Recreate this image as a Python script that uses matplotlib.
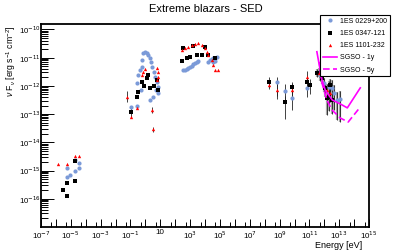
import numpy as np
import matplotlib
matplotlib.use("Agg")
import matplotlib.pyplot as plt
from matplotlib.ticker import FixedLocator, FuncFormatter, NullFormatter
from matplotlib.lines import Line2D

plt.rcParams['font.family'] = ['Liberation Sans', 'DejaVu Sans']
plt.rcParams['mathtext.fontset'] = 'custom'
plt.rcParams['mathtext.rm'] = 'Liberation Sans'
plt.rcParams['mathtext.it'] = 'Liberation Sans:italic'

# values as log10(E / eV) and log10(nuFnu / erg s^-1 cm^-2), errors in dex
blue_E = [-4.74, -4.47, -5.26, -4.47, -4.70, -5.05, -5.26,
          -0.98, -0.58, -0.58, -0.47, -0.36, -0.24, -0.20, -0.13, -0.05, 0.09, 0.20, 0.32,
          0.38, 0.43, 0.55, 0.65, 0.75, 0.87, 0.87, 0.54, 0.32, -0.30, 0.70,
          2.55, 2.66, 2.78, 2.89, 3.00, 3.11, 3.22, 3.34, 3.45, 3.56, 4.23, 4.34, 4.46,
          4.56, 4.68, 4.79, 4.56, 4.68,
          8.82, 9.33, 9.83, 10.83, 11.72, 11.95, 12.28, 12.51, 12.62, 12.85, 13.07]
blue_F = [-14.63, -14.73, -14.91, -14.91, -15.03, -15.16, -15.22,
          -12.74, -12.71, -11.90, -11.61, -11.45, -11.32, -11.10, -10.84, -10.80, -10.84, -10.92, -11.01,
          -11.15, -11.32, -11.50, -11.67, -11.85, -12.03, -12.25, -12.38, -12.50, -12.15, -12.15,
          -11.44, -11.44, -11.40, -11.35, -11.32, -11.28, -11.24, -11.20, -11.16, -11.12, -11.14, -11.08, -11.05,
          -11.02, -11.00, -10.96, -11.14, -11.12,
          -11.85, -12.17, -12.44, -12.09, -11.61, -11.91, -12.03, -12.09, -12.26, -12.50, -12.48]
blue_lo = [0] * 48 + [0.6, 0.4, 0.4, 0.3, 0.2, 0.3, 0.4, 0.5, 0.6, 0.7, 0.8]
blue_hi = [0] * 48 + [0.15, 0.25, 0.5, 0.3, 0.2, 0.2, 0.2, 0.3, 0.3, 0.3, 0.3]

black_E = [-4.70, -5.26, -4.70, -5.50, -5.26,
           -0.98, -0.58, -0.47, -0.24, 0.09, 0.20, 0.32, 0.77, 0.87, 0.60, -0.10,
           2.44, 2.55, 2.78, 3.00, 3.45, 3.79, 4.23, 4.68, 3.20, 4.00,
           8.32, 9.33, 9.83, 10.83, 11.01, 11.50, 11.84, 12.06, 12.40, 12.28, 12.51, 12.17]
black_F = [-14.67, -15.44, -15.37, -15.69, -15.89,
           -12.91, -12.38, -12.21, -11.85, -11.73, -11.61, -12.07, -11.79, -12.15, -12.00, -12.00,
           -11.12, -10.67, -11.02, -10.96, -10.90, -10.90, -10.90, -11.02, -10.60, -10.62,
           -11.85, -12.56, -12.03, -11.85, -11.97, -11.55, -11.73, -12.09, -11.97, -12.38, -12.50, -12.44]
black_lo = [0] * 5 + [0.2] + [0] * 20 + [0.2, 0.6, 0.3, 0.25, 0.3, 0.15, 0.2, 0.3, 0.3, 0.5, 0.5, 0.6]
black_hi = [0] * 5 + [0.2] + [0] * 20 + [0.15, 0.2, 0.15, 0.2, 0.2, 0.15, 0.15, 0.2, 0.2, 0.2, 0.2, 0.2]

red_E = [-5.84, -5.26, -4.72, -4.45,
         -1.25, -0.98, -0.58, -0.24, -0.13, -0.02, 0.77, 0.87, 0.87, 0.80, 0.47, 0.54,
         2.44, 2.66, 2.89, 3.11, 3.34, 3.56, 3.79, 4.01, 4.12, 4.23, 4.46, 4.56, 4.68, 4.90,
         8.32, 8.82, 9.83, 10.83, 11.61, 12.17, 12.40]
red_F = [-14.76, -14.76, -14.48, -14.48,
         -12.38, -13.09, -12.79, -11.60, -11.50, -11.40, -11.38, -11.50, -11.67, -11.80, -12.85, -13.54,
         -10.73, -10.67, -10.61, -10.55, -10.52, -10.49, -10.55, -10.67, -10.79, -10.90, -11.08, -11.26, -11.44, -11.44,
         -11.97, -12.15, -12.15, -11.67, -11.53, -12.15, -12.26]
red_lo = [0] * 4 + [0.2] + [0] * 9 + [0.1, 0.1] + [0] * 14 + [0.15, 0.2, 0.2, 0.2, 0.15, 0.3, 0.3]
red_hi = [0] * 4 + [0.2] + [0] * 9 + [0.1, 0.1] + [0] * 14 + [0.15, 0.2, 0.2, 0.2, 0.15, 0.2, 0.2]

sgso1_E = [11.50, 11.84, 12.06, 12.53, 13.07, 13.54, 14.41]
sgso1_F = [-10.79, -11.79, -12.15, -12.50, -12.64, -12.78, -12.07]
sgso5_E = [11.66, 11.84, 12.17, 12.51, 13.07, 13.60, 14.41]
sgso5_F = [-11.15, -11.90, -12.50, -12.85, -13.14, -13.28, -12.75]

labels = ['1ES 0229+200', '1ES 0347-121', '1ES 1101-232', 'SGSO - 1y', 'SGSO - 5y']
blue = '#7b9ad8'

fig = plt.figure(figsize=(4.11, 2.52), dpi=100)
ax = fig.add_axes([0.0998, 0.1004, 0.7982, 0.8024])


def draw(E, F, lo, hi, color, marker, ms):
    E = 10.0 ** np.array(E)
    F = 10.0 ** np.array(F)
    lo = np.array(lo)
    hi = np.array(hi)
    yerr = [F - F * 10.0 ** (-lo), F * 10.0 ** hi - F]
    tev = E > 10 ** 11.4
    has = (lo > 0) | (hi > 0)
    m = has & tev
    ax.errorbar(E[m], F[m], yerr=[yerr[0][m], yerr[1][m]], fmt='none',
                ecolor='#a8a8a8', elinewidth=1.6, capsize=0, zorder=2)
    m = has
    ax.errorbar(E[m], F[m], yerr=[yerr[0][m], yerr[1][m]], fmt='none',
                ecolor='#222222', elinewidth=0.6, capsize=0, zorder=3)
    ax.plot(E, F, ls='none', marker=marker, color=color, ms=ms, mew=0, zorder=4)


draw(blue_E, blue_F, blue_lo, blue_hi, blue, 'o', 3.0)
draw(black_E, black_F, black_lo, black_hi, 'black', 's', 2.6)
draw(red_E, red_F, red_lo, red_hi, 'red', '^', 2.4)

ax.plot(10.0 ** np.array(sgso1_E), 10.0 ** np.array(sgso1_F), color='#ff00ff', lw=1.2, zorder=5)
ax.plot(10.0 ** np.array(sgso5_E), 10.0 ** np.array(sgso5_F), color='#ff00ff', lw=1.2,
        ls=(0, (4, 2)), zorder=5)

ax.set_xscale('log')
ax.set_yscale('log')
ax.set_xlim(1e-7, 1e15)
ax.set_ylim(1.02e-17, 1.5e-10)

ax.xaxis.set_major_locator(FixedLocator(10.0 ** np.arange(-7, 16)))
ax.xaxis.set_minor_locator(FixedLocator(5 * 10.0 ** np.arange(-7, 15)))


def xfmt(v, pos):
    e = int(round(np.log10(v)))
    if (e + 7) % 2:
        return ''
    if e == 1:
        return '10'
    return r'$10^{\mathsf{%d}}$' % e


def yfmt(v, pos):
    e = int(round(np.log10(v)))
    if e < -16:
        return ''
    return r'$10^{\mathsf{%d}}$' % e


ax.xaxis.set_major_formatter(FuncFormatter(xfmt))
ax.xaxis.set_minor_formatter(NullFormatter())
ax.yaxis.set_major_locator(FixedLocator(10.0 ** np.arange(-17, -9)))
ax.yaxis.set_minor_locator(FixedLocator([m * 10.0 ** e for e in range(-17, -9) for m in range(2, 10)]))
ax.yaxis.set_major_formatter(FuncFormatter(yfmt))
ax.yaxis.set_minor_formatter(NullFormatter())

ax.tick_params(axis='x', which='major', direction='in', length=6, width=0.7, labelsize=5.8, pad=2)
ax.tick_params(axis='x', which='minor', direction='in', length=3.5, width=0.7)
ax.tick_params(axis='y', which='major', direction='in', length=9, width=0.7, labelsize=5.6, pad=0.5)
ax.tick_params(axis='y', which='minor', direction='in', length=5, width=0.7)
for s in ax.spines.values():
    s.set_linewidth(1.3)

fig.text(0.5, 0.965, 'Extreme blazars - SED', ha='center', va='center', fontsize=8)
fig.text(11 / 411, 1 - 26 / 252, r'$\nu$ F$_{\nu}$ [erg s$^{-1}$ cm$^{-2}$]', rotation=90,
         ha='center', va='top', fontsize=6.2)
fig.text(362 / 411, 1 - 245.5 / 252, 'Energy [eV]', ha='right', va='center', fontsize=6.5)

handles = [Line2D([], [], ls='none', marker='o', color=blue, ms=3, mew=0),
           Line2D([], [], ls='none', marker='s', color='black', ms=2.6, mew=0),
           Line2D([], [], ls='none', marker='^', color='red', ms=2.4, mew=0),
           Line2D([], [], color='#ff00ff', lw=1.2),
           Line2D([], [], color='#ff00ff', lw=1.2, ls=(0, (4, 2)))]
leg = fig.legend(handles, labels, loc='upper right', bbox_to_anchor=(390 / 411, 1 - 15 / 252),
                 fontsize=5, frameon=True, fancybox=False, edgecolor='black', framealpha=1,
                 borderpad=0.4, labelspacing=0.75, handlelength=2.0, handletextpad=0.5,
                 borderaxespad=0)
leg.get_frame().set_linewidth(0.8)

fig.savefig('out.png', dpi=100)
